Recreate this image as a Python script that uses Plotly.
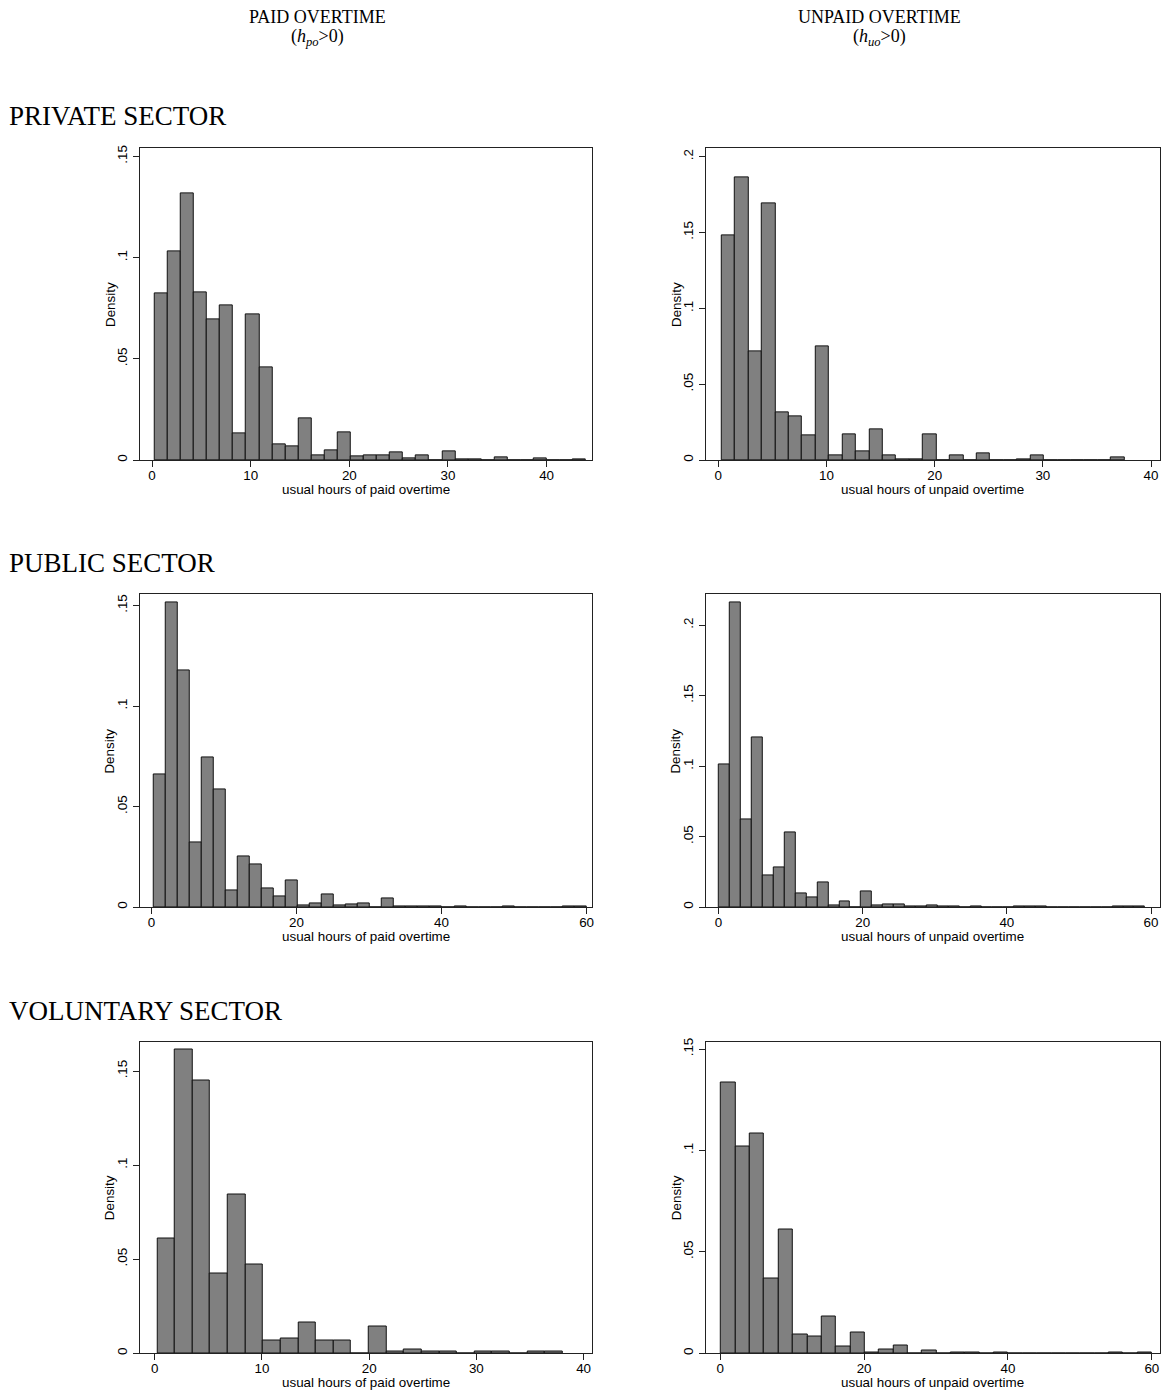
import plotly.graph_objects as go

# ---------------- data (densities) ----------------
priv_paid_start, priv_paid_width = 0.27, 1.325
priv_paid = [0.0823, 0.1031, 0.1318, 0.0826, 0.0697, 0.0766, 0.0131, 0.0720, 0.0456, 0.0077,
             0.0067, 0.0207, 0.0025, 0.0049, 0.0138, 0.0018, 0.0021, 0.0025, 0.0036, 0.0007,
             0.0021, 0.0, 0.0043, 0.0005, 0.0005, 0.0, 0.0013, 0.0, 0.0, 0.0010,
             0.0, 0.0, 0.0005]

priv_unpaid_start, priv_unpaid_width = 0.31, 1.241
priv_unpaid = [0.1482, 0.1864, 0.0713, 0.1694, 0.0317, 0.0289, 0.0164, 0.0750, 0.0033, 0.0170,
               0.0055, 0.0201, 0.0028, 0.0004, 0.0004, 0.0166, 0.0, 0.0028, 0.0, 0.0044,
               0.0, 0.0, 0.0007, 0.0033, 0.0, 0.0, 0.0, 0.0, 0.0, 0.0015]

pub_paid_start, pub_paid_width = 0.28, 1.659
pub_paid = [0.0660, 0.1517, 0.1178, 0.0321, 0.0746, 0.0585, 0.0083, 0.0253, 0.0210, 0.0094,
            0.0053, 0.0131, 0.0007, 0.0018, 0.0061, 0.0007, 0.0013, 0.0017, 0.0, 0.0041,
            0.0005, 0.0003, 0.0002, 0.0002, 0.0, 0.0003, 0.0, 0.0, 0.0, 0.0003,
            0.0, 0.0, 0.0, 0.0, 0.0002, 0.0003]

pub_unpaid_start, pub_unpaid_width = 0.10, 1.515
pub_unpaid = [0.1009, 0.2163, 0.0625, 0.1203, 0.0224, 0.0281, 0.0528, 0.0097, 0.0066, 0.0175,
              0.0009, 0.0040, 0.0, 0.0111, 0.0009, 0.0017, 0.0017, 0.0002, 0.0002, 0.0012,
              0.0003, 0.0003, 0.0, 0.0003, 0.0, 0.0, 0.0, 0.0002, 0.0003, 0.0003,
              0.0, 0.0, 0.0, 0.0, 0.0, 0.0, 0.0002, 0.0003, 0.0002]

vol_paid_start, vol_paid_width = 0.25, 1.643
vol_paid = [0.0612, 0.1613, 0.1449, 0.0425, 0.0845, 0.0471, 0.0065, 0.0076, 0.0164, 0.0065,
            0.0065, 0.0, 0.0141, 0.0011, 0.0021, 0.0011, 0.0011, 0.0, 0.0011, 0.0011,
            0.0, 0.0011, 0.0011]

vol_unpaid_start, vol_unpaid_width = 0.14, 1.995
vol_unpaid = [0.1336, 0.1020, 0.1084, 0.0370, 0.0611, 0.0090, 0.0082, 0.0179, 0.0034, 0.0103,
              0.0005, 0.0018, 0.0038, 0.0, 0.0013, 0.0, 0.0003, 0.0003, 0.0, 0.0003,
              0.0, 0.0, 0.0, 0.0, 0.0, 0.0, 0.0, 0.0003, 0.0, 0.0003]

col_headers = ["PAID OVERTIME", "UNPAID OVERTIME"]
col_sub = ["(<i>h</i><sub><i>po</i></sub>&gt;0)", "(<i>h</i><sub><i>uo</i></sub>&gt;0)"]
row_labels = ["PRIVATE SECTOR", "PUBLIC SECTOR", "VOLUNTARY SECTOR"]
x_titles = ["usual hours of paid overtime", "usual hours of unpaid overtime"]

ytick_vals_15 = [0, 0.05, 0.1, 0.15]
ytick_text_15 = ["0", ".05", ".1", ".15"]
ytick_vals_20 = [0, 0.05, 0.1, 0.15, 0.2]
ytick_text_20 = ["0", ".05", ".1", ".15", ".2"]
xticks_40 = [0, 10, 20, 30, 40]
xticks_60 = [0, 20, 40, 60]

# ---------------- layout geometry ----------------
W, H = 1169, 1394
col_px = [(140, 593), (707, 1162)]
row_px = [(145, 458), (593, 907), (1042, 1355)]

panels = [
    (0, 0, priv_paid, priv_paid_start, priv_paid_width, [-1.25, 44.6], [0, 0.154], xticks_40, ytick_vals_15, ytick_text_15),
    (0, 1, priv_unpaid, priv_unpaid_start, priv_unpaid_width, [-1.16, 40.83], [0, 0.2054], xticks_40, ytick_vals_20, ytick_text_20),
    (1, 0, pub_paid, pub_paid_start, pub_paid_width, [-1.6, 60.74], [0, 0.1555], xticks_60, ytick_vals_15, ytick_text_15),
    (1, 1, pub_unpaid, pub_unpaid_start, pub_unpaid_width, [-1.76, 61.24], [0, 0.2217], xticks_60, ytick_vals_20, ytick_text_20),
    (2, 0, vol_paid, vol_paid_start, vol_paid_width, [-1.39, 40.78], [0, 0.1657], xticks_40, ytick_vals_15, ytick_text_15),
    (2, 1, vol_unpaid, vol_unpaid_start, vol_unpaid_width, [-2.0, 61.13], [0, 0.1537], xticks_60, ytick_vals_15, ytick_text_15),
]

SANS = "Liberation Sans, Arial, sans-serif"
SERIF = "Liberation Serif, Times New Roman, serif"
FS = 13.4

fig = go.Figure()
layout = dict(
    width=W, height=H, margin=dict(l=0, r=0, t=0, b=0),
    paper_bgcolor="white", plot_bgcolor="white", showlegend=False,
    bargap=0, font=dict(family=SANS, size=FS, color="black"),
)
annotations = []

for i, (r, c, vals, start, width, xr, yr, xt, yv, ytxt) in enumerate(panels):
    n = i + 1
    xa = "x" if n == 1 else f"x{n}"
    ya = "y" if n == 1 else f"y{n}"
    centers = [start + width * (k + 0.5) for k in range(len(vals))]
    fig.add_trace(go.Bar(
        x=centers, y=vals, width=[width] * len(vals), xaxis=xa, yaxis=ya,
        marker=dict(color="#808080", line=dict(color="#111111", width=1)),
        hoverinfo="x+y",
    ))
    L, R = col_px[c]
    T, B = row_px[r]
    axis_common = dict(showline=True, mirror=True, linecolor="#222222", linewidth=1,
                       ticks="outside", ticklen=6, tickwidth=1, tickcolor="#222222",
                       showgrid=False, zeroline=False,
                       tickfont=dict(family=SANS, size=FS, color="black"))
    layout["xaxis" if n == 1 else f"xaxis{n}"] = dict(
        domain=[L / W, R / W], range=xr, anchor=ya, tickvals=xt,
        ticktext=[str(v) for v in xt], ticklabelstandoff=-3, **axis_common)
    layout["yaxis" if n == 1 else f"yaxis{n}"] = dict(
        domain=[1 - B / H, 1 - T / H], range=yr, anchor=xa, tickvals=yv,
        ticktext=ytxt, tickangle=-90, **axis_common)
    annotations.append(dict(text="Density", x=(L - 30) / W, y=1 - (T + B) / 2 / H,
                            xref="paper", yref="paper", showarrow=False, textangle=-90,
                            xanchor="center", yanchor="middle",
                            font=dict(family=SANS, size=FS, color="black")))
    annotations.append(dict(text=x_titles[c], x=(L + R) / 2 / W, y=1 - (B + 29.5) / H,
                            xref="paper", yref="paper", showarrow=False,
                            xanchor="center", yanchor="middle",
                            font=dict(family=SANS, size=FS, color="black")))

header_x = [318, 881]
for c in range(2):
    annotations.append(dict(text=col_headers[c], x=header_x[c] / W, y=1 - 13 / H,
                            xref="paper", yref="paper", showarrow=False,
                            xanchor="center", yanchor="middle",
                            font=dict(family=SERIF, size=18, color="black")))
    annotations.append(dict(text=col_sub[c], x=header_x[c] / W, y=1 - 34 / H,
                            xref="paper", yref="paper", showarrow=False,
                            xanchor="center", yanchor="middle",
                            font=dict(family=SERIF, size=18, color="black")))

row_label_y = [112, 561, 1011]
for r in range(3):
    annotations.append(dict(text=row_labels[r], x=7 / W, y=1 - row_label_y[r] / H,
                            xref="paper", yref="paper", showarrow=False,
                            xanchor="left", yanchor="middle",
                            font=dict(family=SERIF, size=27, color="black")))

layout["annotations"] = annotations
fig.update_layout(**layout)
fig.write_html("out.html",
               config={"displayModeBar": False},
               post_script="document.body.style.margin='0';document.body.style.padding='0';"
                           "document.documentElement.style.overflow='hidden';")
